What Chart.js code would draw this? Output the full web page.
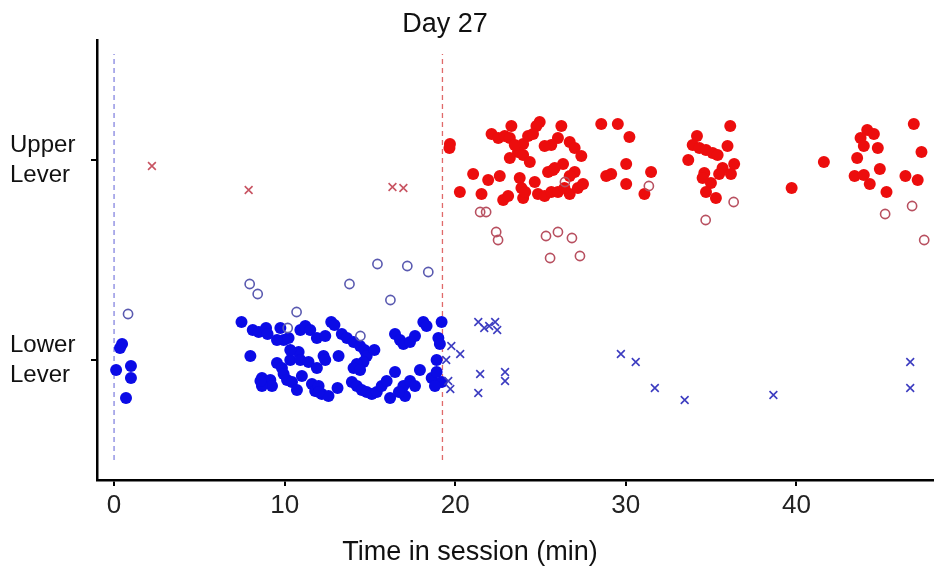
<!DOCTYPE html>
<html>
<head>
<meta charset="utf-8">
<script src="https://cdn.jsdelivr.net/npm/chart.js@4.4.1/dist/chart.umd.min.js"></script>
<style>
    html, body { margin: 0; padding: 0; background: #fff; }
    #wrap { width: 940px; height: 576px; position: relative; }
</style>
</head>
<body>
<div id="wrap"><canvas id="leverChart"></canvas></div>
<script>
"use strict";

// tempo (min) x alavanca (0 = lower, 1 = upper, com jitter)
const xTicks = [0, 10, 20, 30, 40];
const leverTicks = [0, 1];
const leverLabels = [["Lower", "Lever"], ["Upper", "Lever"]];
const cueTimes = [0, 19.25];
const cueSpan = [-0.5, 1.5];

const lowerFilled = [
    [0.47, 0.08], [0.35, 0.06], [0.12, -0.05], [0.99, -0.03], [0.99, -0.09], [0.70, -0.19],
    [7.47, 0.19], [8.13, 0.15], [8.48, 0.14], [8.91, 0.16], [9.75, 0.16], [9.94, 0.10],
    [10.23, 0.11], [10.92, 0.15], [11.21, 0.17], [11.50, 0.15], [11.89, 0.11], [12.38, 0.12],
    [12.73, 0.19], [12.92, 0.175], [13.35, 0.13], [13.65, 0.11], [14.04, 0.09], [14.42, 0.07],
    [14.68, 0.05], [14.81, 0.02], [14.62, -0.01], [14.23, -0.02], [14.04, -0.04], [15.26, 0.05],
    [16.47, 0.13], [16.76, 0.10], [16.96, 0.08], [17.35, 0.09], [17.64, 0.12], [18.13, 0.19],
    [18.32, 0.17], [19.20, 0.19], [19.01, 0.11], [19.10, 0.08], [7.99, 0.02], [9.55, -0.015],
    [9.84, -0.04], [10.33, 0.0], [10.82, 0.04], [10.92, 0.0], [11.40, -0.01], [11.89, -0.04],
    [12.28, 0.02], [12.38, 0.0], [13.16, 0.02], [8.67, -0.09], [8.87, -0.11], [9.16, -0.10],
    [9.26, -0.13], [8.67, -0.13], [9.94, -0.07], [10.14, -0.10], [10.43, -0.11], [10.72, -0.15],
    [11.01, -0.08], [11.60, -0.12], [11.79, -0.155], [12.18, -0.17], [12.57, -0.18], [11.99, -0.13],
    [13.94, -0.11], [14.23, -0.13], [14.52, -0.15], [14.81, -0.16], [15.11, -0.17], [15.40, -0.16],
    [15.69, -0.13], [16.18, -0.19], [15.98, -0.105], [16.47, -0.06], [16.96, -0.13], [17.35, -0.105],
    [17.06, -0.18], [17.64, -0.13], [17.93, -0.05], [18.62, -0.09], [18.91, -0.06], [19.20, -0.11],
    [18.91, 0.0], [18.81, -0.13], [10.33, 0.05], [9.55, 0.10], [14.42, -0.05], [8.58, -0.105],
    [12.00, -0.16], [13.10, -0.14], [16.70, -0.16], [9.00, 0.13]
];
const lowerOpen = [
    [0.82, 0.23], [7.95, 0.38], [8.42, 0.33], [10.70, 0.24], [13.80, 0.38], [15.44, 0.48],
    [17.19, 0.47], [18.42, 0.44], [16.20, 0.30], [14.44, 0.12], [10.18, 0.16]
];
const lowerCross = [
    [21.35, 0.19], [21.70, 0.16], [21.99, 0.17], [22.34, 0.19], [22.46, 0.15], [19.77, 0.07],
    [20.29, 0.03], [19.47, 0.0], [19.59, -0.105], [19.71, -0.145], [21.46, -0.07], [21.35, -0.165],
    [22.92, -0.06], [22.92, -0.105], [29.71, 0.03], [30.58, -0.01], [31.70, -0.14], [33.45, -0.2],
    [38.65, -0.175], [46.67, -0.01], [46.67, -0.14]
];

const upperFilled = [
    [19.69, 1.08], [19.66, 1.06], [22.13, 1.13], [22.52, 1.11], [22.90, 1.12], [23.29, 1.17],
    [23.20, 1.11], [23.98, 1.08], [24.27, 1.12], [23.68, 1.04], [23.20, 1.01], [23.98, 1.025],
    [24.95, 1.19], [24.76, 1.17], [24.56, 1.13], [24.37, 0.99], [26.22, 1.17], [26.02, 1.11],
    [25.63, 1.075], [25.24, 1.07], [26.71, 1.09], [27.00, 1.06], [27.39, 1.02], [26.32, 0.98],
    [25.73, 0.95], [25.44, 0.94], [27.00, 0.94], [26.71, 0.92], [28.56, 1.18], [29.53, 1.18],
    [30.21, 1.115], [30.02, 0.98], [29.14, 0.93], [28.85, 0.92], [30.02, 0.88], [31.48, 0.94],
    [31.09, 0.83], [21.05, 0.93], [21.93, 0.90], [22.61, 0.92], [20.27, 0.84], [21.54, 0.83],
    [22.81, 0.80], [23.10, 0.82], [23.78, 0.91], [23.88, 0.86], [23.98, 0.81], [24.66, 0.89],
    [24.85, 0.83], [25.24, 0.82], [25.63, 0.84], [26.02, 0.84], [26.71, 0.83], [27.19, 0.86],
    [27.49, 0.88], [23.49, 1.075], [25.83, 0.96], [24.10, 0.84], [26.40, 0.86],
    [34.17, 1.12], [36.12, 1.17], [33.92, 1.075], [34.31, 1.06], [34.70, 1.05], [35.09, 1.035],
    [35.38, 1.025], [35.96, 1.07], [33.66, 1.0], [36.35, 0.98], [35.67, 0.96], [35.47, 0.93],
    [34.99, 0.885], [34.60, 0.935], [34.50, 0.91], [34.70, 0.84], [35.28, 0.81], [36.16, 0.93],
    [39.72, 0.86], [41.61, 0.99], [44.15, 1.15], [44.54, 1.13], [43.76, 1.11], [43.95, 1.07],
    [44.77, 1.06], [43.56, 1.01], [44.89, 0.955], [43.41, 0.92], [43.95, 0.925], [44.30, 0.88],
    [45.28, 0.84], [46.88, 1.18], [47.33, 1.04], [46.39, 0.92], [47.11, 0.90]
];
const upperOpen = [
    [21.46, 0.74], [21.81, 0.74], [22.40, 0.64], [22.51, 0.60], [25.32, 0.62], [26.02, 0.64],
    [26.84, 0.61], [25.56, 0.51], [27.31, 0.52], [26.43, 0.89], [31.35, 0.87], [36.32, 0.79],
    [34.68, 0.70], [45.20, 0.73], [46.78, 0.77], [47.49, 0.60]
];
const upperCross = [[2.22, 0.97], [7.89, 0.85], [16.32, 0.865], [16.96, 0.86]];

const FONT = "'Liberation Sans', Arial, sans-serif";
const ctxLever = document.getElementById("leverChart");

const toPoints = (lista) => lista.map(([x, y]) => ({ x: x, y: y }));

function pontos(lista, cor, estilo, raio, preenchido) {
    return {
        data: toPoints(lista),
        pointStyle: estilo,
        pointRadius: raio,
        pointBorderWidth: preenchido ? 0 : 1.6,
        pointBackgroundColor: preenchido ? cor : "rgba(0,0,0,0)",
        pointBorderColor: cor,
        showLine: false,
        order: 1,
    };
}

function linhaCue(t, cor) {
    return {
        data: [
            { x: t, y: cueSpan[0] },
            { x: t, y: cueSpan[1] + 0.03 },
        ],
        showLine: true,
        borderColor: cor,
        borderWidth: 1.3,
        borderDash: [5, 4],
        pointRadius: 0,
        order: 10,
    };
}

// titulos desenhados como texto
const textos = {
    id: "textos",
    afterDraw(chart) {
        const c = chart.ctx;
        c.save();
        c.fillStyle = "#111";
        c.textAlign = "center";
        c.textBaseline = "middle";
        c.font = "27px " + FONT;
        c.fillText("Day 27", 445, 25);
        c.fillText("Time in session (min)", 470, 553);
        c.restore();
    },
};

new Chart(ctxLever, {
    type: "scatter",
    data: {
        datasets: [
            linhaCue(cueTimes[0], "#8585e0"),
            linhaCue(cueTimes[1], "#e06a6a"),
            pontos(lowerOpen, "#5a5ab0", "circle", 4.6, false),
            pontos(upperOpen, "#b85060", "circle", 4.6, false),
            pontos(lowerCross, "#3c3cc0", "crossRot", 5.5, false),
            pontos(upperCross, "#c85462", "crossRot", 5.5, false),
            pontos(lowerFilled, "#0b0be6", "circle", 6, true),
            pontos(upperFilled, "#ec0d0d", "circle", 6, true),
        ],
    },
    options: {
        responsive: true,
        maintainAspectRatio: false,
        animation: false,
        layout: {
            padding: { top: 35, left: 10, right: 3, bottom: 0 },
        },
        plugins: {
            legend: { display: false },
            tooltip: { enabled: false },
        },
        scales: {
            x: {
                type: "linear",
                min: -1,
                max: 48,
                afterBuildTicks: (axis) => {
                    axis.ticks = xTicks.map((v) => ({ value: v }));
                },
                afterFit: (scale) => {
                    scale.height = 96;
                },
                border: { display: true, color: "#000", width: 2.5 },
                grid: { display: true, drawOnChartArea: false, drawTicks: true, tickLength: 6, color: "#000", lineWidth: 2 },
                ticks: {
                    color: "#222",
                    padding: 4,
                    maxRotation: 0,
                    font: { family: FONT, size: 26 },
                },
            },
            y: {
                type: "linear",
                min: -0.6,
                max: 1.6,
                afterBuildTicks: (axis) => {
                    axis.ticks = leverTicks.map((v) => ({ value: v }));
                },
                afterFit: (scale) => {
                    scale.width = 87;
                },
                border: { display: true, color: "#000", width: 2.5 },
                grid: { display: true, drawOnChartArea: false, drawTicks: true, tickLength: 6, color: "#000", lineWidth: 2 },
                ticks: {
                    color: "#111",
                    crossAlign: "far",
                    padding: 10,
                    font: { family: FONT, size: 24, lineHeight: 1.25 },
                    callback: (value) => leverLabels[leverTicks.indexOf(value)] || "",
                },
            },
        },
    },
    plugins: [textos],
});
</script>
</body>
</html>
